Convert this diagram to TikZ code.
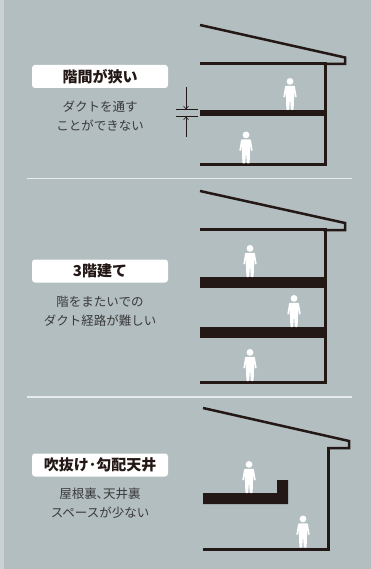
\documentclass[tikz,border=0pt]{standalone}
\usepackage{fontspec}
\usepackage{xcolor}
\usetikzlibrary{arrows.meta,positioning}
\setmainfont{Noto Sans CJK JP}
\definecolor{panelgray}{HTML}{B3BEC1}
\definecolor{inkblack}{HTML}{231815}
\definecolor{textgray}{HTML}{3A3A3A}
\definecolor{rulewhite}{HTML}{E6EAEB}

\tikzset{
  labelbox/.style={fill=white, rounded corners=3pt, minimum width=136pt,
    minimum height=23pt, inner sep=0pt, text=inkblack,
    font=\fontsize{15}{15}\selectfont\bfseries},
  note/.style={align=center, text=textgray, inner sep=0pt,
    font=\fontsize{12.5}{19}\selectfont},
  roof/.style={draw=inkblack, line width=2.5pt, line join=miter},
  frame/.style={draw=inkblack, line width=3pt, line join=miter},
  gapline/.style={draw=inkblack, line width=0.6pt},
  person/.pic={
    \fill[white] (0,-28.6) circle (3.4);
    \fill[white, rounded corners=0.8pt] (-4.8,-24.2) -- (-6.8,-12.5) -- (-5.1,-12.5)
      -- (-4.2,-19) -- (-4,-11) -- (-3.6,0) -- (-0.8,0) -- (0,-12) -- (0.8,0)
      -- (3.6,0) -- (4,-11) -- (4.2,-19) -- (5.1,-12.5) -- (6.8,-12.5)
      -- (4.8,-24.2) -- cycle;
  }
}

\begin{document}
\begin{tikzpicture}[x=1pt, y=-1pt]
    % Background
    \useasboundingbox (0,0) rectangle (371,569);
    \fill[panelgray] (0,0) rectangle (371,569);
    \fill[panelgray!70!white] (0,0) rectangle (4,569);

    % Separators
    \draw[rulewhite, line width=1.5pt] (27,178.5) -- (352,178.5);
    \draw[rulewhite, line width=1.5pt] (27,397) -- (352,397);

    % --- Narrow floor gap ---
    \node[labelbox] (gapTitle) at (100,76.5) {階間が狭い};
    \node[note] (gapNote) at (100,116.5) {ダクトを通す\\ことができない};

    \draw[roof] (200,25) -- (345,57.5) -- (345,64) -- (323,64);
    \draw[frame] (200,63.5) -- (325,63.5) -- (325,165) -- (200,165);
    \fill[inkblack] (200,110) rectangle (325,116.5);

    \pic at (290,110) {person};
    \pic at (246,163.5) {person};

    % Gap dimension
    \coordinate (gapTop) at (186,109.5);
    \coordinate (gapBot) at (186,116.5);
    \coordinate (gapTopEnd) at (186,87);
    \coordinate (gapBotEnd) at (186,137);
    \draw[gapline] (176,109.5) -- (198,109.5);
    \draw[gapline] (176,116.5) -- (198,116.5);
    \draw[gapline, -{Straight Barb[length=3pt,width=5pt]}] (gapTopEnd) -- (gapTop);
    \draw[gapline, -{Straight Barb[length=3pt,width=5pt]}] (gapBotEnd) -- (gapBot);

    % --- Three storeys ---
    \node[labelbox] (storeyTitle) at (100,271) {3階建て};
    \node[note] (storeyNote) at (100,311) {階をまたいでの\\ダクト経路が難しい};

    \draw[roof] (200,191) -- (345,223) -- (345,230) -- (323,230);
    \draw[frame] (200,229) -- (325,229) -- (325,382.5) -- (200,382.5);
    \fill[inkblack] (200,277) rectangle (325,288);
    \fill[inkblack] (200,327) rectangle (325,338);

    \pic at (250,277) {person};
    \pic at (294,327) {person};
    \pic at (250,381) {person};

    % --- Open ceiling ---
    \node[labelbox] (openTitle) at (100,465) {吹抜け･勾配天井};
    \node[note] (openNote) at (100,503.5) {屋根裏､天井裏\\スペースが少ない};

    \draw[roof] (203,408) -- (349,441) -- (349,448) -- (327,448);
    \draw[frame] (328,447) -- (328,549) -- (203,549);
    \fill[inkblack] (203,493) -- (277,493) -- (277,480) -- (288,480)
      -- (288,504) -- (203,504) -- cycle;

    \pic at (249,493) {person};
    \pic at (303,547.5) {person};
\end{tikzpicture}
\end{document}
